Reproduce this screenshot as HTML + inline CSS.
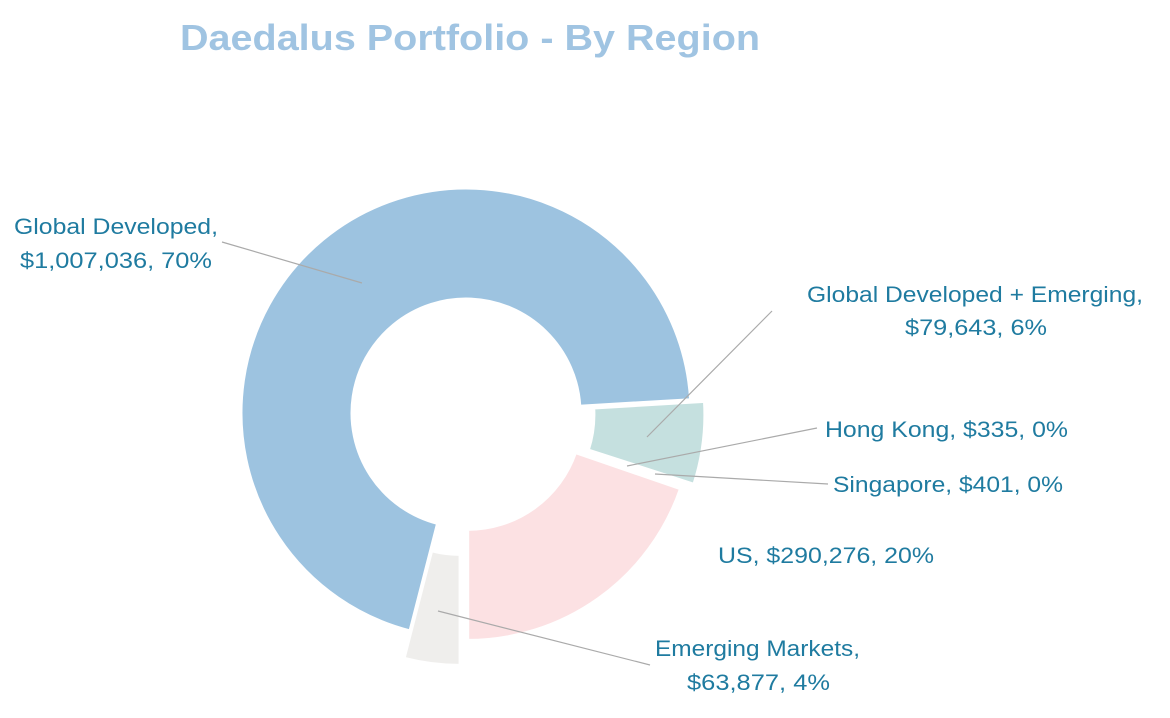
<!DOCTYPE html>
<html><head><meta charset="utf-8"><style>
html,body{margin:0;padding:0;background:#fff;width:1170px;height:718px;overflow:hidden}
svg text{font-family:"Liberation Sans",sans-serif}
.l{fill:#1f7ba0;font-size:22px}
</style></head><body>
<svg id="s" width="1170" height="718" viewBox="0 0 1170 718">
<text x="180" y="50" fill="#a0c4e2" font-size="36" font-weight="bold" textLength="580" lengthAdjust="spacingAndGlyphs">Daedalus  Portfolio - By Region</text>
<g id="p"></g>
<g stroke="#aaa" stroke-width="1.2" fill="none">
<line x1="222" y1="242" x2="362" y2="283"/>
<line x1="772" y1="311" x2="647" y2="437"/>
<line x1="817" y1="428" x2="627" y2="466"/>
<line x1="828" y1="484" x2="655" y2="474"/>
<line x1="650" y1="665" x2="438" y2="611"/>
</g>
<text class="l" x="14" y="234" textLength="204" lengthAdjust="spacingAndGlyphs">Global Developed,</text>
<text class="l" x="20" y="268" textLength="192" lengthAdjust="spacingAndGlyphs">$1,007,036, 70%</text>
<text class="l" x="807" y="302" textLength="336" lengthAdjust="spacingAndGlyphs">Global Developed + Emerging,</text>
<text class="l" x="905" y="335" textLength="142" lengthAdjust="spacingAndGlyphs">$79,643, 6%</text>
<text class="l" x="825" y="437" textLength="243" lengthAdjust="spacingAndGlyphs">Hong Kong, $335, 0%</text>
<text class="l" x="833" y="492" textLength="230" lengthAdjust="spacingAndGlyphs">Singapore, $401, 0%</text>
<text class="l" x="718" y="563" textLength="216" lengthAdjust="spacingAndGlyphs">US, $290,276, 20%</text>
<text class="l" x="655" y="656" textLength="205" lengthAdjust="spacingAndGlyphs">Emerging Markets,</text>
<text class="l" x="687" y="690" textLength="143" lengthAdjust="spacingAndGlyphs">$63,877, 4%</text>
</svg>
<script>
var cx=466,cy=413,R=225,r=114;
var sl=[[104.4,356.6,0,"#9dc3e0",0],[356.6,378,14,"#c5e0df",0],[19,90,3,"#fce1e3",0],[90,104.4,28,"#efeeec",5]];
var h="";
sl.forEach(function(s){
 var a0=s[0]*Math.PI/180,a1=s[1]*Math.PI/180,m=(a0+a1)/2+s[4]*Math.PI/180;
 var ox=cx+s[2]*Math.cos(m),oy=cy+s[2]*Math.sin(m);
 function P(rad,a){return (ox+rad*Math.cos(a)).toFixed(1)+","+(oy+rad*Math.sin(a)).toFixed(1);}
 var big=(s[1]-s[0])>180?1:0;
 h+='<path fill="'+s[3]+'" stroke="#fff" stroke-width="3" d="M'+P(R,a0)+' A'+R+','+R+' 0 '+big+' 1 '+P(R,a1)+' L'+P(r,a1)+' A'+r+','+r+' 0 '+big+' 0 '+P(r,a0)+' Z"/>';
});
document.getElementById("p").innerHTML=h;
</script>
</body></html>
